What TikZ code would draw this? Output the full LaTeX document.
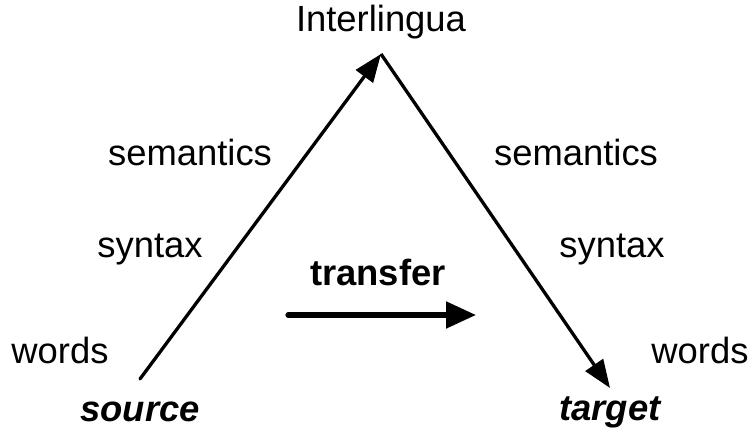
\documentclass[tikz,border=0pt]{standalone}
\usepackage{fontspec}
\setmainfont{Liberation Sans}
\usepackage{tikz}
\usetikzlibrary{arrows.meta, positioning}

\begin{document}
\begin{tikzpicture}[x=0.5bp, y=0.5bp,
    every node/.style={font=\fontsize{18.2bp}{22bp}\selectfont, inner sep=0pt},
    leg/.style={line width=1.65bp, -{Triangle[length=14bp, width=10.5bp]}},
    xfer/.style={line width=2.6bp, line cap=round, -{Triangle[length=15bp, width=13bp]}},
    lang/.style={font=\fontsize{18.2bp}{22bp}\selectfont\bfseries\itshape}]

    \useasboundingbox (0,0) rectangle (754,434);

    % =================================================================
    % 1. CÁC ĐỈNH CỦA TAM GIÁC
    % =================================================================
    \node (inter) at (381,412) {Interlingua};
    \node[lang] (source) at (140,22) {source};
    \node[lang] (target) at (610,22) {target};

    \coordinate (apex) at (381,380);
    \coordinate (src) at (140,55);
    \coordinate (tgt) at (610,46);

    % =================================================================
    % 2. HAI CẠNH: PHÂN TÍCH VÀ SINH
    % =================================================================
    \draw[leg, line cap=round] (src) -- (apex);
    \draw[leg] (apex) -- (tgt);

    % Các mức bên trái
    \node (semL) at (190,281) {semantics};
    \node (synL) at (150,184) {syntax};
    \node (wrdL) at (60,84) {words};

    % Các mức bên phải
    \node (semR) at (576,281) {semantics};
    \node (synR) at (612,184) {syntax};
    \node (wrdR) at (700,84) {words};

    % =================================================================
    % 3. MŨI TÊN CHUYỂN ĐỔI
    % =================================================================
    \coordinate (xfrom) at (288,119);
    \coordinate (xto) at (476,119);
    \draw[xfer] (xfrom) -- (xto);
    \node[font=\fontsize{18.2bp}{22bp}\selectfont\bfseries] (transfer) at (378,161) {transfer};

\end{tikzpicture}
\end{document}
